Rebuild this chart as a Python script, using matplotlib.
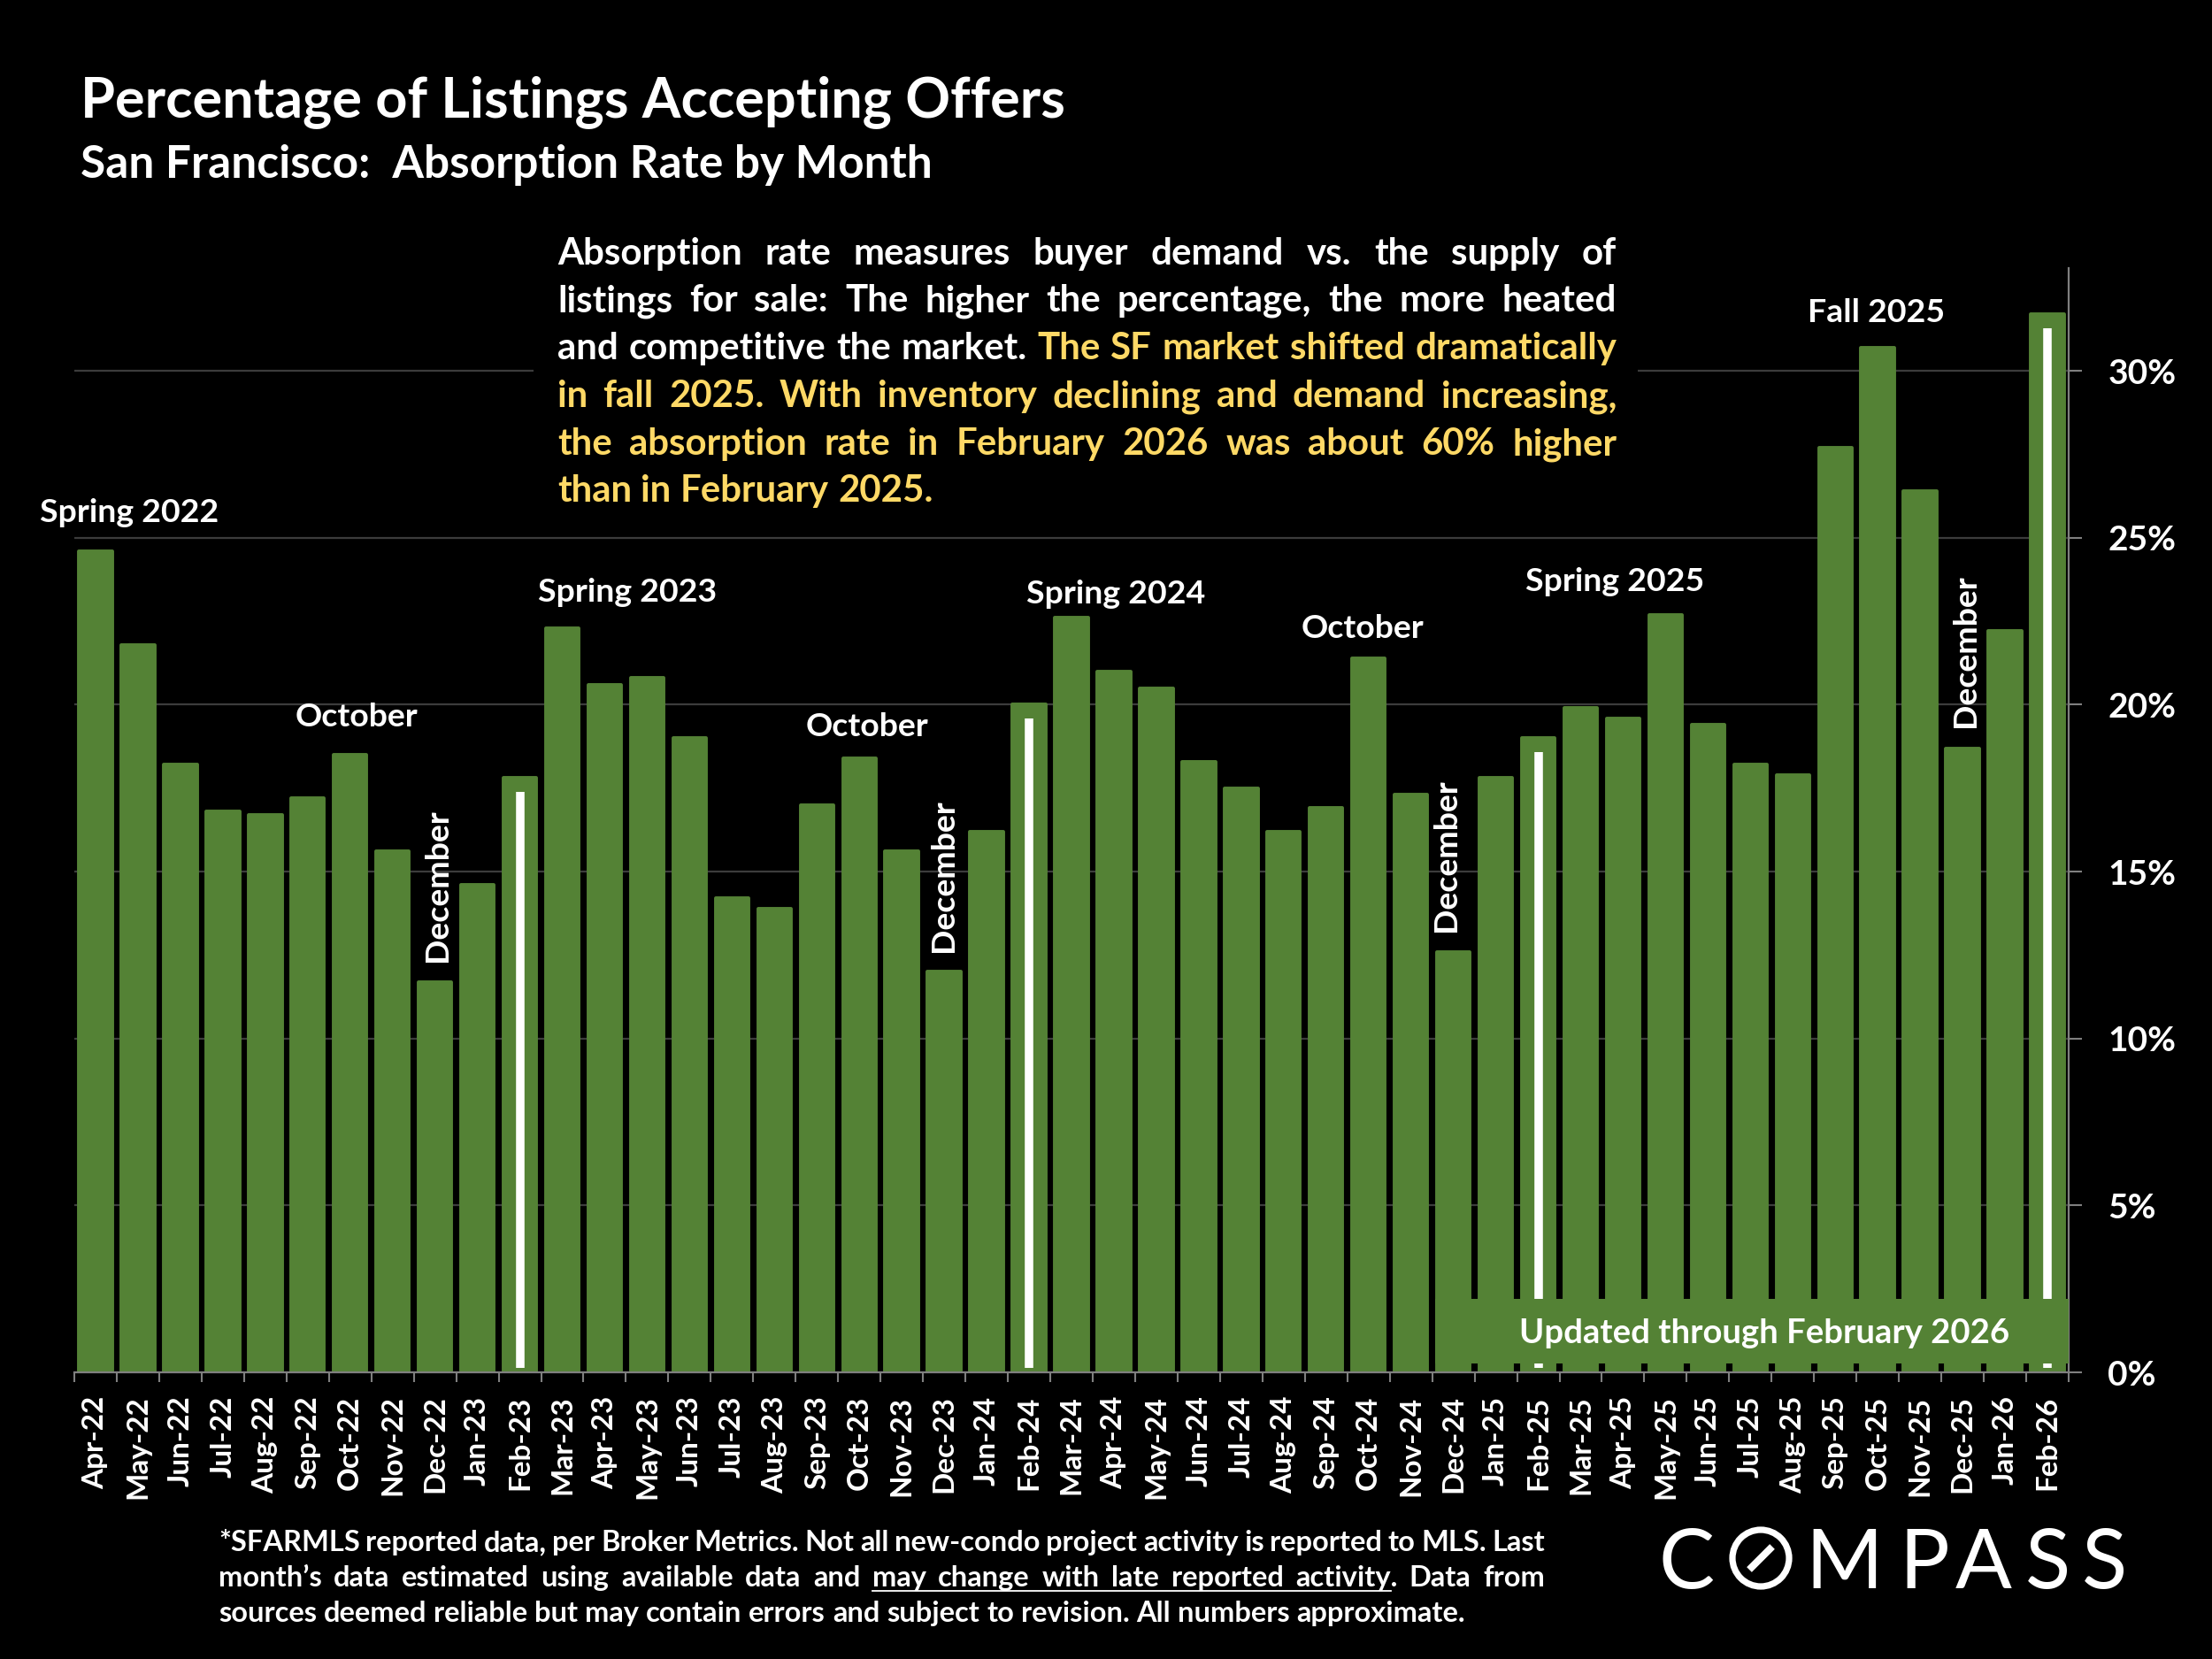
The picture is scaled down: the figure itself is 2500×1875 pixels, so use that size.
import numpy as np
import matplotlib
matplotlib.use('Agg')
import matplotlib.pyplot as plt
from matplotlib.patches import Rectangle, Circle
from matplotlib.lines import Line2D
from matplotlib.transforms import IdentityTransform

# ---------------- data ----------------
months = ['Apr-22', 'May-22', 'Jun-22', 'Jul-22', 'Aug-22', 'Sep-22', 'Oct-22', 'Nov-22', 'Dec-22',
          'Jan-23', 'Feb-23', 'Mar-23', 'Apr-23', 'May-23', 'Jun-23', 'Jul-23', 'Aug-23', 'Sep-23',
          'Oct-23', 'Nov-23', 'Dec-23',
          'Jan-24', 'Feb-24', 'Mar-24', 'Apr-24', 'May-24', 'Jun-24', 'Jul-24', 'Aug-24', 'Sep-24',
          'Oct-24', 'Nov-24', 'Dec-24',
          'Jan-25', 'Feb-25', 'Mar-25', 'Apr-25', 'May-25', 'Jun-25', 'Jul-25', 'Aug-25', 'Sep-25',
          'Oct-25', 'Nov-25', 'Dec-25',
          'Jan-26', 'Feb-26']
absorption_rate = [24.6, 21.8, 18.2, 16.8, 16.7, 17.2, 18.5, 15.6, 11.7,
                   14.6, 17.8, 22.3, 20.6, 20.8, 19.0, 14.2, 13.9, 17.0,
                   18.4, 15.6, 12.0,
                   16.2, 20.0, 22.6, 21.0, 20.5, 18.3, 17.5, 16.2, 16.9,
                   21.4, 17.3, 12.6,
                   17.8, 19.0, 19.9, 19.6, 22.7, 19.4, 18.2, 17.9, 27.7,
                   30.7, 26.4, 18.7,
                   22.2, 31.7]
february_markers = ['Feb-23', 'Feb-24', 'Feb-25', 'Feb-26']
y_ticks = [0, 5, 10, 15, 20, 25, 30]
y_tick_labels = ['0%', '5%', '10%', '15%', '20%', '25%', '30%']

title = 'Percentage of Listings Accepting Offers'
subtitle = 'San Francisco:  Absorption Rate by Month'
updated_text = 'Updated through February 2026'
period_labels = ['Spring 2022', 'October', 'December', 'Spring 2023', 'October', 'December',
                 'Spring 2024', 'October', 'December', 'Spring 2025', 'Fall 2025', 'December']

WHITE = '#FFFFFF'
YELLOW = '#FFD966'
GREEN = '#548235'
GRAY = '#7F7F7F'
GRID = '#3C3C3C'

paragraph = [
    [('Absorption rate measures buyer demand vs. the supply of', WHITE)],
    [('listings for sale: The higher the percentage, the more heated', WHITE)],
    [('and competitive the market.', WHITE), ('The SF market shifted dramatically', YELLOW)],
    [('in fall 2025. With inventory declining and demand increasing,', YELLOW)],
    [('the absorption rate in February 2026 was about 60% higher', YELLOW)],
    [('than in February 2025.', YELLOW)],
]
footnote = [
    [('*SFARMLS reported data, per Broker Metrics. Not all new-condo project activity is reported to MLS. Last', None)],
    [('month\u2019s data estimated using available data and', None),
     ('may change with late reported', True), ('activity.', 'activity'), ('Data from', None)],
    [('sources deemed reliable but may contain errors and subject to revision. All numbers approximate.', None)],
]

# ---------------- figure ----------------
W, H = 2500, 1875
fig = plt.figure(figsize=(25, 18.75), dpi=100, facecolor='black')
renderer = fig.canvas.get_renderer()
PX = IdentityTransform()
FONT = ['Lato', 'DejaVu Sans']


def twidth(s, size, weight='bold', family=FONT):
    t = fig.text(0, 0, s, fontsize=size, fontweight=weight, family=family, transform=PX)
    w = t.get_window_extent(renderer).width
    t.remove()
    return w


def fit(s, target, weight='bold', family=FONT):
    return 30.0 * target / twidth(s, 30.0, weight, family)


def draw_justified(lines, x0, x1, baselines, size, weight='bold', default_color=WHITE):
    sp = twidth('n n', size, weight) - twidth('nn', size, weight)
    for li, (segs, yb) in enumerate(zip(lines, baselines)):
        words = []
        for text, flag in segs:
            for w in text.split(' '):
                if isinstance(flag, str) and flag.startswith('#'):
                    words.append((w, flag, None))
                else:
                    words.append((w, default_color, flag))
        widths = [twidth(w, size, weight) for w, c, u in words]
        last = li == len(lines) - 1
        if last or len(words) == 1:
            gap = sp
        else:
            gap = (x1 - x0 - sum(widths)) / (len(words) - 1)
        x = x0
        ul_start, ul_end = None, None
        for (w, c, u), wd in zip(words, widths):
            fig.text(x, H - yb, w, fontsize=size, fontweight=weight, family=FONT,
                     color=c, transform=PX, ha='left', va='baseline')
            if u:
                if ul_start is None:
                    ul_start = x
                ul_end = x + (twidth(u, size, weight) if isinstance(u, str) else wd)
            x += wd + gap
        if ul_start is not None:
            fig.add_artist(Line2D([ul_start, ul_end], [H - yb - 5, H - yb - 5],
                                  transform=PX, color=default_color, lw=1.3))


# axes placement (pixels from top): left 84, right 2338, top 303, bottom 1551
ax = fig.add_axes([84 / W, 1 - 1551 / H, (2338 - 84) / W, (1551 - 303) / H])
ax.set_facecolor('black')
n = len(months)
x = np.arange(n)
ax.bar(x, absorption_rate, width=0.78, color=GREEN, edgecolor=GREEN, linewidth=2.8,
       joinstyle='round', zorder=2)
feb_idx = [months.index(m) for m in february_markers]
ax.vlines(feb_idx, 0.12, [absorption_rate[i] - 0.42 for i in feb_idx],
          colors='white', lw=6.9, zorder=3)
ax.set_xlim(-0.5, n - 0.5)
ax.set_ylim(0, 33.08)

# "Updated" box
ax.add_patch(Rectangle((31.57, 0.26), n - 0.5 - 31.57, 1.94, facecolor=GREEN,
                       edgecolor='none', zorder=4))
ax.text(39.32, 0.875, updated_text, fontsize=fit(updated_text, 552), fontweight='bold',
        family=FONT, color='white', ha='center', va='baseline', zorder=5)

# gridlines & spines
ax.set_axisbelow(True)
ax.yaxis.grid(True, color=GRID, lw=1.6)
ax.xaxis.grid(False)
for s in ['left', 'top']:
    ax.spines[s].set_visible(False)
for s in ['right', 'bottom']:
    ax.spines[s].set_color(GRAY)
    ax.spines[s].set_linewidth(1.6)

ax.yaxis.tick_right()
ax.set_yticks(y_ticks)
ysize = fit('30%', 77)
ax.set_yticklabels(y_tick_labels, fontsize=ysize, fontweight='bold', family=FONT, color='white')
ax.tick_params(axis='y', which='major', length=11, width=1.5, color=GRAY, pad=21)

xsize = fit('Apr-22', 105)
ax.set_xticks(x)
ax.set_xticklabels(months, rotation=90, fontsize=xsize, fontweight='bold', family=FONT,
                   color='white')
ax.tick_params(axis='x', which='major', length=0, pad=19)
ax.set_xticks(np.arange(-0.5, n), minor=True)
ax.tick_params(axis='x', which='minor', length=8, width=1.5, color=GRAY, direction='out')

# black box behind the paragraph (interrupts the 30% gridline)
ax.add_patch(Rectangle((603, H - 590), 1851 - 603, 340, transform=PX, facecolor='black',
                       edgecolor='none', zorder=1, clip_on=False))

# period annotations (label, x in category units, baseline / bottom in %, rotation)
lsize = fit('Spring 2022', 202)
ann_layout = [(0.80, 25.48, 0), (6.15, 19.34, 0), (8.07, 12.3, 90), (12.54, 23.1, 0),
              (18.18, 19.07, 0), (19.99, 12.6, 90), (24.05, 23.04, 0), (29.87, 22.0, 0),
              (31.83, 13.2, 90), (35.81, 23.41, 0), (41.97, 31.46, 0), (44.08, 19.32, 90)]
for lab, (lx, ly, rot) in zip(period_labels, ann_layout):
    if rot:
        ax.text(lx, ly, lab, rotation=90, fontsize=lsize, fontweight='bold', family=FONT,
                color='white', ha='center', va='bottom', clip_on=False, zorder=6)
    else:
        ax.text(lx, ly, lab, fontsize=lsize, fontweight='bold', family=FONT,
                color='white', ha='center', va='baseline', clip_on=False, zorder=6)

# titles
fig.text(91, H - 132, title, fontsize=fit(title, 1113), fontweight='bold', family=FONT,
         color='white', transform=PX, ha='left', va='baseline')
fig.text(91, H - 201, subtitle, fontsize=fit(subtitle, 961), fontweight='bold', family=FONT,
         color='white', transform=PX, ha='left', va='baseline')

# paragraph
psize = fit('than in February 2025.', 425)
draw_justified(paragraph, 630, 1827, [299, 352, 406, 460, 514, 567], psize)

# footnote
fsize = fit(footnote[2][0][0], 1410)
draw_justified(footnote, 247, 1746, [1753, 1793, 1833], fsize)

# COMPASS logo
logo_size = 68
for ch, cx in zip(['C', 'M', 'P', 'A', 'S', 'S'], [1906, 2084, 2175, 2242, 2315, 2378]):
    fig.text(cx, H - 1795, ch, fontsize=logo_size, fontweight='normal', family=FONT,
             color='white', transform=PX, ha='center', va='baseline')
fig.add_artist(Circle((1990, H - 1761), 32, transform=PX, facecolor='none',
                      edgecolor='white', lw=5.2))
fig.add_artist(Line2D([1977, 2003], [H - 1774, H - 1748], transform=PX, color='white',
                      lw=5.8, solid_capstyle='butt'))

fig.savefig('out.png', dpi=100, facecolor='black')
